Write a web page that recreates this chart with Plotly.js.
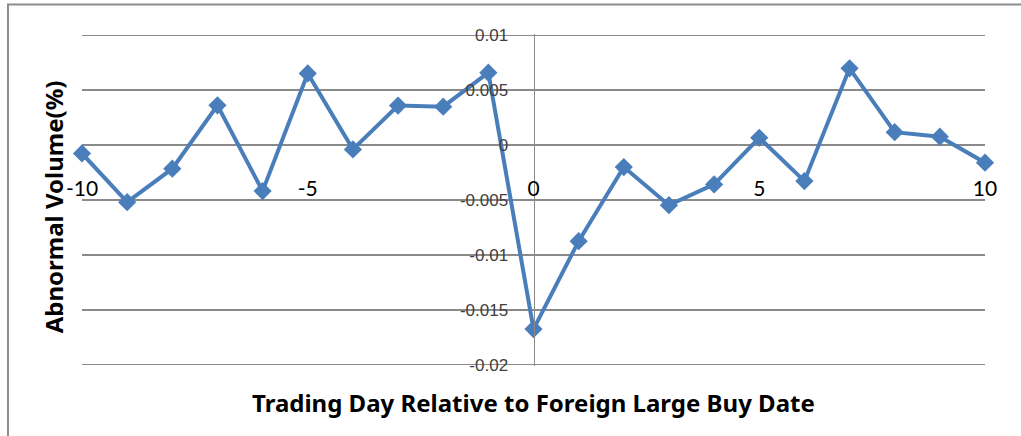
<!DOCTYPE html>
<html>
<head>
<meta charset="utf-8">
<script src="https://cdn.plot.ly/plotly-3.0.1.min.js"></script>
<style>
  html, body { margin: 0; padding: 0; background: #ffffff; }
  #chart { width: 1021px; height: 436px; }
</style>
</head>
<body>
<div id="chart"></div>
<script>
// Trading day relative to the foreign large buy date
const days = [-10, -9, -8, -7, -6, -5, -4, -3, -2, -1, 0, 1, 2, 3, 4, 5, 6, 7, 8, 9, 10];
// Abnormal volume (%)
const abnormalVolume = [-0.00076, -0.0052, -0.00215, 0.00362, -0.00419, 0.00653, -0.00039, 0.0036, 0.0035, 0.0066,
  -0.01676, -0.00875, -0.0020, -0.00547, -0.00358, 0.00067, -0.00328, 0.00699, 0.00118, 0.00077, -0.0016];

const xTickVals = [-10, -5, 0, 5, 10];
const xTickText = ['-10', '-5', '0', '5', '10'];
const yTickVals = [0.01, 0.005, 0, -0.005, -0.01, -0.015, -0.02];
const yTickText = ['0.01', '0.005', '0', '-0.005', '-0.01', '-0.015', '-0.02'];

const xTitle = 'Trading Day Relative to Foreign Large Buy Date';
const yTitle = 'Abnormal Volume(%)';

const blue = '#4a7ebb';
const grid = '#8a8a8a';

const trace = {
  x: days,
  y: abnormalVolume,
  type: 'scatter',
  mode: 'lines+markers',
  line: { color: blue, width: 4 },
  marker: { symbol: 'diamond', size: 14, color: blue },
  cliponaxis: false,
  hoverinfo: 'x+y'
};

const W = 1021, H = 436;
const pad = 0.00012; // keeps the edge gridlines (0.01 and -0.02) drawn
const m = { l: 82.3, r: 36, t: 34.4, b: 69.7 };
const pw = W - m.l - m.r, ph = H - m.t - m.b;
const px = v => (v - m.l) / pw;        // pixel x -> paper
const py = v => (H - m.b - v) / ph;    // pixel y -> paper

const layout = {
  width: W,
  height: H,
  autosize: false,
  margin: m,
  paper_bgcolor: '#ffffff',
  plot_bgcolor: '#ffffff',
  showlegend: false,
  xaxis: {
    range: [-10, 10],
    tickvals: xTickVals,
    ticktext: xTickText,
    showgrid: false,
    zeroline: false,
    showline: false,
    ticks: '',
    anchor: 'free',
    position: py(174),
    tickfont: { family: 'Lato, "Open Sans", sans-serif', size: 21, color: '#000000' }
  },
  yaxis: {
    range: [-0.02 - pad, 0.01 + pad],
    tickvals: yTickVals,
    ticktext: yTickText,
    showgrid: true,
    gridcolor: grid,
    gridwidth: 1.5,
    zeroline: false,
    showline: true,
    linecolor: grid,
    linewidth: 1.5,
    ticks: '',
    anchor: 'free',
    position: 0.5,
    ticklabelstandoff: 22,
    tickfont: { family: '"Liberation Sans", Arial, sans-serif', size: 17, color: '#404040' }
  },
  annotations: [
    {
      text: '<b>' + xTitle + '</b>', xref: 'paper', yref: 'paper',
      x: px(533.5), y: py(403), xanchor: 'center', yanchor: 'middle',
      showarrow: false,
      font: { family: '"Noto Sans", "Open Sans", sans-serif', size: 24, color: '#000000' }
    },
    {
      text: '<b>' + yTitle + '</b>', xref: 'paper', yref: 'paper',
      x: px(53.5), y: py(207.5), xanchor: 'center', yanchor: 'middle',
      textangle: -90, showarrow: false,
      font: { family: '"Noto Sans", "Open Sans", sans-serif', size: 24, color: '#000000' }
    }
  ],
  shapes: [
    {
      type: 'rect', xref: 'paper', yref: 'paper',
      x0: px(8.3), x1: px(1100), y0: py(520), y1: py(5),
      line: { color: '#8c8c8c', width: 2 },
      fillcolor: 'rgba(0,0,0,0)'
    }
  ]
};

Plotly.newPlot('chart', [trace], layout, { displayModeBar: false, staticPlot: true });
</script>
</body>
</html>
